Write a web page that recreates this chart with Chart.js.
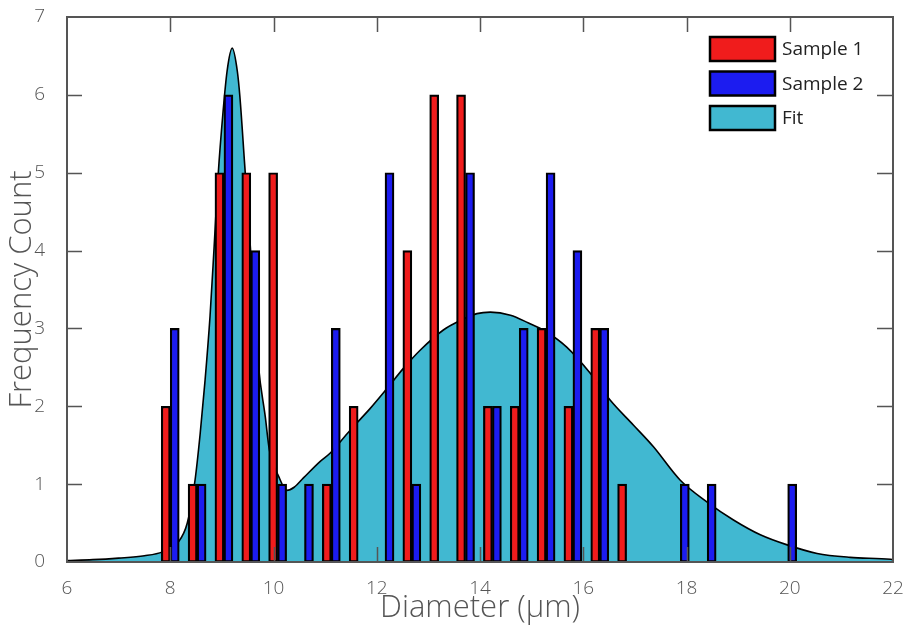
<!DOCTYPE html>
<html>
<head>
<meta charset="utf-8">
<script src="https://cdn.jsdelivr.net/npm/chart.js@4.4.1/dist/chart.umd.min.js"></script>
<style>
  html, body { margin: 0; padding: 0; background: #fff; }
  #wrap { width: 907px; height: 633px; }
</style>
</head>
<body>
<div id="wrap"><canvas id="hist"></canvas></div>
<script>
// histogram bin centres (µm) and counts
var binCenters = [8.00, 8.52, 9.04, 9.56, 10.08, 10.60, 11.12, 11.64, 12.16, 12.68, 13.20, 13.72,
                  14.24, 14.76, 15.28, 15.80, 16.32, 16.84, 17.36, 17.88, 18.40, 18.92, 19.44, 19.96];
var sample1 = [2, 1, 5, 5, 5, 0, 1, 2, 0, 4, 6, 6, 2, 2, 3, 2, 3, 1, 0, 0, 0, 0, 0, 0];
var sample2 = [3, 1, 6, 4, 1, 1, 3, 0, 5, 1, 0, 5, 2, 3, 5, 4, 3, 0, 0, 1, 1, 0, 0, 1];

// fit curve, sampled by eye along the outline
var fitX = [6.0, 6.5, 7.0, 7.5, 7.85, 8.15, 8.33, 8.48, 8.58, 8.67, 8.77, 8.85, 8.93, 9.02, 9.1, 9.2,
            9.3, 9.35, 9.44, 9.53, 9.71, 9.84, 9.92, 10.1, 10.26, 10.4, 10.58, 10.9, 11.1, 11.48,
            11.87, 12.2, 12.52, 12.84, 13.29, 13.55, 13.94, 14.2, 14.59, 14.94, 15.25, 15.68, 16.14,
            16.52, 16.97, 17.36, 17.88, 18.4, 18.91, 19.43, 19.95, 20.53, 21.17, 21.95, 22.0];
var fitY = [0.02, 0.03, 0.05, 0.08, 0.13, 0.25, 0.5, 1.05, 1.65, 2.3, 3.15, 4.05, 4.99, 5.76, 6.3, 6.6,
            6.3, 5.97, 5.12, 4.26, 2.51, 1.87, 1.44, 1.1, 0.92, 0.96, 1.08, 1.29, 1.40, 1.69,
            1.97, 2.23, 2.49, 2.72, 2.98, 3.08, 3.19, 3.21, 3.17, 3.07, 2.97, 2.76, 2.42,
            2.08, 1.76, 1.48, 1.05, 0.77, 0.54, 0.35, 0.22, 0.11, 0.06, 0.035, 0.03];

var xTicks = [6, 8, 10, 12, 14, 16, 18, 20, 22];
var yTicks = [0, 1, 2, 3, 4, 5, 6, 7];

var RED = '#f01c1c', BLUE = '#1c1cf0', TEAL = '#41b8d1';
var AXIS = '#555555';
var FONT = "'Open Sans', 'DejaVu Sans', sans-serif";

function pts(xs, ys) {
    var out = [];
    for (var i = 0; i < xs.length; i++) out.push({x: xs[i], y: ys[i]});
    return out;
}

// box frame with inward ticks on all four sides, plus the boxed legend
var framePlugin = {
    id: 'frame',
    afterDatasetsDraw: function(chart) {
        var ctx = chart.ctx, a = chart.chartArea;
        var xs = chart.scales.x, ys = chart.scales.y;
        ctx.save();
        ctx.strokeStyle = AXIS;
        ctx.lineWidth = 1.5;
        ctx.beginPath();
        xTicks.slice(1, -1).forEach(function(v) {
            var px = Math.round(xs.getPixelForValue(v)) + 0.5;
            ctx.moveTo(px, a.bottom); ctx.lineTo(px, a.bottom - 15);
            ctx.moveTo(px, a.top); ctx.lineTo(px, a.top + 15);
        });
        yTicks.slice(1, -1).forEach(function(v) {
            var py = Math.round(ys.getPixelForValue(v)) + 0.5;
            ctx.moveTo(a.left, py); ctx.lineTo(a.left + 15, py);
            ctx.moveTo(a.right, py); ctx.lineTo(a.right - 16, py);
        });
        ctx.stroke();
        ctx.lineWidth = 2;
        ctx.strokeRect(a.left, a.top, a.right - a.left, a.bottom - a.top);

        // legend
        var items = chart.data.datasets.map(function(d) { return {label: d.label, color: d.legendColor}; });
        ctx.font = '19px ' + FONT;
        ctx.textBaseline = 'middle';
        ctx.textAlign = 'left';
        items.forEach(function(it, i) {
            var bx = 710, by = 37 + i * 34.5;
            ctx.fillStyle = it.color;
            ctx.fillRect(bx, by, 65, 24);
            ctx.strokeStyle = '#000';
            ctx.lineWidth = 2.5;
            ctx.strokeRect(bx, by, 65, 24);
            ctx.fillStyle = '#222';
            ctx.fillText(it.label, 782, by + 13);
        });
        ctx.restore();
    }
};

new Chart(document.getElementById('hist'), {
    type: 'bar',
    data: {
        datasets: [{
            label: 'Sample 1',
            data: pts(binCenters, sample1),
            backgroundColor: RED,
            legendColor: RED,
            borderColor: '#000',
            borderWidth: 2.2,
            barThickness: 9,
            borderSkipped: false,
            order: 1
        }, {
            label: 'Sample 2',
            data: pts(binCenters, sample2),
            backgroundColor: BLUE,
            legendColor: BLUE,
            borderColor: '#000',
            borderWidth: 2.2,
            barThickness: 9,
            borderSkipped: false,
            order: 1
        }, {
            type: 'line',
            label: 'Fit',
            data: pts(fitX, fitY),
            borderColor: '#000',
            borderWidth: 1.6,
            backgroundColor: TEAL,
            legendColor: TEAL,
            fill: 'origin',
            pointRadius: 0,
            cubicInterpolationMode: 'monotone',
            order: 2
        }]
    },
    options: {
        responsive: true,
        maintainAspectRatio: false,
        animation: false,
        layout: { padding: { top: 17, right: 14, left: 0, bottom: 0 } },
        plugins: {
            legend: { display: false },
            tooltip: { enabled: false }
        },
        scales: {
            x: {
                type: 'linear',
                offset: false,
                min: 6, max: 22,
                afterBuildTicks: function(s) { s.ticks = xTicks.map(function(v) { return {value: v}; }); },
                afterFit: function(s) { s.height = 71; s.paddingLeft = 0; s.paddingRight = 0; },
                grid: { display: false, offset: false },
                border: { display: false },
                ticks: { padding: 7, color: AXIS, font: { family: FONT, size: 19, weight: 300 } },
                title: {
                    display: true, text: 'Diameter (μm)', color: AXIS,
                    font: { family: FONT, size: 31, weight: 300 }, padding: { top: 0, bottom: 6 }
                }
            },
            y: {
                min: 0, max: 7,
                afterBuildTicks: function(s) { s.ticks = yTicks.map(function(v) { return {value: v}; }); },
                afterFit: function(s) { s.width = 67; s.paddingTop = 0; s.paddingBottom = 0; },
                grid: { display: false },
                border: { display: false },
                ticks: { padding: 14, color: AXIS, font: { family: FONT, size: 19, weight: 300 } },
                title: {
                    display: true, text: 'Frequency Count', color: AXIS,
                    font: { family: FONT, size: 31, weight: 300 }, padding: { top: 4, bottom: 0 }
                }
            }
        }
    },
    plugins: [framePlugin]
});
</script>
</body>
</html>
